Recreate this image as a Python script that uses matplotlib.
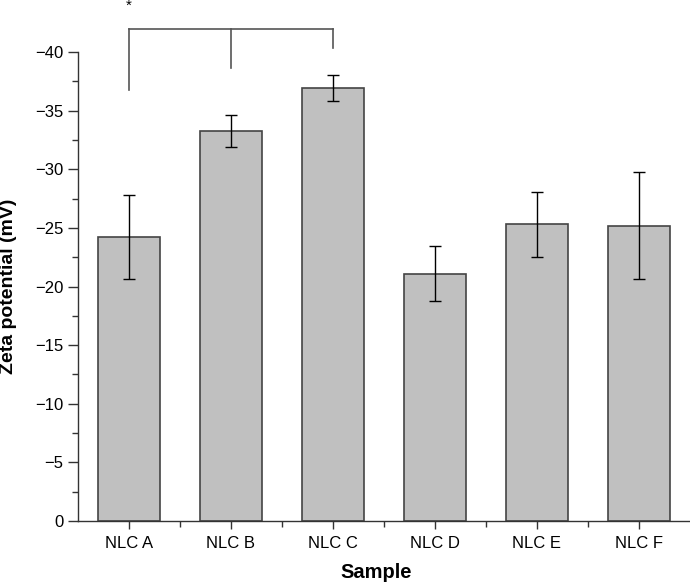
import numpy as np
import matplotlib.pyplot as plt
from matplotlib.ticker import MultipleLocator

plt.rcParams['font.family'] = ['Liberation Sans', 'DejaVu Sans']

samples = ['NLC A', 'NLC B', 'NLC C', 'NLC D', 'NLC E', 'NLC F']
zeta = [-24.2, -33.25, -36.95, -21.1, -25.3, -25.2]
zeta_err = [3.6, 1.35, 1.1, 2.35, 2.75, 4.55]

# significance bracket between NLC A, B and C
bracket_x = [0, 1, 2]
bracket_top = -42.0
bracket_ends = [-36.8, -38.6, -40.3]
star_y = -44.5

fig = plt.figure(figsize=(6.9, 5.85), dpi=100)
ax = fig.add_axes([0.113, 0.1094, 0.887, 0.8017])

x = np.arange(len(samples))
ax.bar(x, zeta, width=0.6, color='#c0c0c0', edgecolor='#444444', linewidth=1.2, zorder=2)
ax.errorbar(x, zeta, yerr=zeta_err, fmt='none', ecolor='black', elinewidth=1,
            capsize=4, capthick=1, zorder=3)

# bracket
ax.plot([bracket_x[0], bracket_x[-1]], [bracket_top, bracket_top], color='#555555', lw=1.2, clip_on=False)
for bx, be in zip(bracket_x, bracket_ends):
    ax.plot([bx, bx], [bracket_top, be], color='#555555', lw=1.2, clip_on=False)
ax.text(bracket_x[0], star_y, '*', ha='center', va='top', fontsize=11, clip_on=False)

ax.set_xlim(-0.5, 5.5)
ax.set_ylim(0, -40)
ax.set_xticks(x)
ax.set_xticklabels(samples)
ax.set_xticks(x[:-1] + 0.5, minor=True)
ax.yaxis.set_major_locator(MultipleLocator(5))
ax.yaxis.set_minor_locator(MultipleLocator(2.5))

for s in ['top', 'right']:
    ax.spines[s].set_visible(False)
for s in ['left', 'bottom']:
    ax.spines[s].set_color('#333333')
    ax.spines[s].set_linewidth(1.0)

ax.tick_params(axis='y', direction='out', length=7, width=1, labelsize=12, color='#333333')
ax.tick_params(axis='y', which='minor', direction='out', length=4, width=1, color='#333333')
ax.tick_params(axis='x', direction='out', length=6, width=1, labelsize=12, color='#333333', pad=5)
ax.tick_params(axis='x', which='minor', direction='out', length=4, width=1, color='#333333')

ax.set_xlabel('Sample', fontsize=14.5, fontweight='bold')
ax.set_ylabel('Zeta potential (mV)', fontsize=14, fontweight='bold')
ax.xaxis.set_label_coords(0.487, -0.09)
ax.yaxis.set_label_coords(-0.1, 0.5)

fig.savefig('out.png', dpi=100)
